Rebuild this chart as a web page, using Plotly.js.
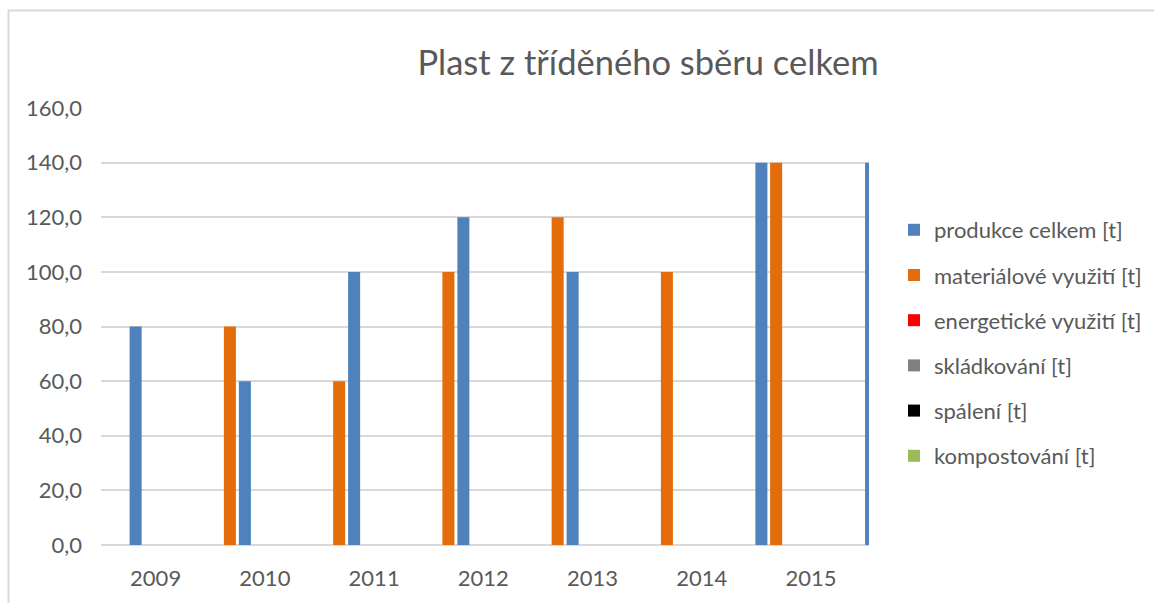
<!DOCTYPE html>
<html>
<head>
<meta charset="utf-8">
<script src="https://cdn.plot.ly/plotly-3.0.1.min.js"></script>
<style>html,body{margin:0;padding:0;background:#fff;}#chart{width:1154px;height:603px;}</style>
</head>
<body>
<div id="chart"></div>
<script>
// ---- data ----
const years = ["2009", "2010", "2011", "2012", "2013", "2014", "2015"];
const seriesNames = ["produkce celkem [t]", "materiálové využití [t]", "energetické využití [t]", "skládkování [t]", "spálení [t]", "kompostování [t]"];
const produkce = [80, 60, 100, 120, 100, 140, 140];
const materialove = [0, 80, 60, 100, 120, 100, 140];
const energeticke = [0, 0, 0, 0, 0, 0, 0];
const skladkovani = [0, 0, 0, 0, 0, 0, 0];
const spaleni = [0, 0, 0, 0, 0, 0, 0];
const kompostovani = [0, 0, 0, 0, 0, 0, 0];
const yTicks = [0, 20, 40, 60, 80, 100, 120, 140, 160];

// ---- style ----
const colors = ["#4F81BD", "#E46C0A", "#FF0000", "#808080", "#000000", "#9BBB59"];
const barWidth = 0.11;
// bar placement inside each year's band (as drawn in the source chart)
const offsets = [
  [-0.238, -0.238, -0.238, -0.238, -0.238, 0.49, 0.494],
  [-0.375, -0.375, -0.375, -0.375, -0.375, -0.375, -0.375],
  [-0.11, -0.11, -0.11, -0.11, -0.11, -0.11, -0.11],
  [0.01, 0.01, 0.01, 0.01, 0.01, 0.01, 0.01],
  [0.13, 0.13, 0.13, 0.13, 0.13, 0.13, 0.13],
  [0.25, 0.25, 0.25, 0.25, 0.25, 0.25, 0.25]
];
const FONT = "Lato, 'Open Sans', sans-serif";
const TXT = "#595959";

const values = [produkce, materialove, energeticke, skladkovani, spaleni, kompostovani];
const traces = values.map((v, i) => ({
  type: "bar",
  name: seriesNames[i],
  x: years,
  y: v,
  width: barWidth,
  offset: offsets[i],
  marker: {color: colors[i], line: {width: 0}},
  legendgroup: "g" + i,
  hoverinfo: "skip"
}));

// plot area px: x 101..869, y 108..545
const L = 101, R = 869, T = 108, B = 545;
const W = 1154, H = 603;
const px2x = p => (p - L) / (R - L);
const px2y = p => (B - p) / (B - T);

const layout = {
  width: W, height: H,
  margin: {l: L, r: W - R, t: T, b: H - B, pad: 0},
  paper_bgcolor: "#ffffff",
  plot_bgcolor: "#ffffff",
  separators: ", ",
  barmode: "overlay",
  showlegend: true,
  title: {
    text: "Plast z tříděného sběru celkem",
    font: {family: FONT, size: 34.5, color: TXT},
    x: 648 / W, xanchor: "center",
    y: 1 - 63 / H, yanchor: "middle"
  },
  xaxis: {
    type: "category",
    range: [-0.5, 6.53],
    showgrid: false, zeroline: false, showline: false,
    ticks: "", ticklabelstandoff: 18,
    tickfont: {family: FONT, size: 22, color: TXT},
    fixedrange: true
  },
  yaxis: {
    range: [0, 160],
    tickvals: yTicks,
    tickformat: ".1f",
    showgrid: true, gridcolor: "#D9D9D9", gridwidth: 2,
    zeroline: true, zerolinecolor: "#D9D9D9", zerolinewidth: 2,
    showline: false, ticks: "", ticklabelstandoff: 18,
    tickfont: {family: FONT, size: 22, color: TXT},
    fixedrange: true
  },
  legend: {
    xref: "container", yref: "container",
    x: 894 / W, xanchor: "left",
    y: 1 - 209 / H, yanchor: "top",
    font: {family: FONT, size: 22, color: TXT},
    tracegroupgap: 13.6,
    itemwidth: 30,
    bgcolor: "rgba(0,0,0,0)",
    traceorder: "grouped"
  },
  shapes: [{
    type: "path", xref: "paper", yref: "paper",
    path: "M " + px2x(8.5) + " " + px2y(620) + " L " + px2x(8.5) + " " + px2y(10.5) + " L " + px2x(1170) + " " + px2y(10.5),
    line: {color: "#D9D9D9", width: 2}
  }]
};

Plotly.newPlot("chart", traces, layout, {displayModeBar: false, staticPlot: true});
</script>
</body>
</html>
